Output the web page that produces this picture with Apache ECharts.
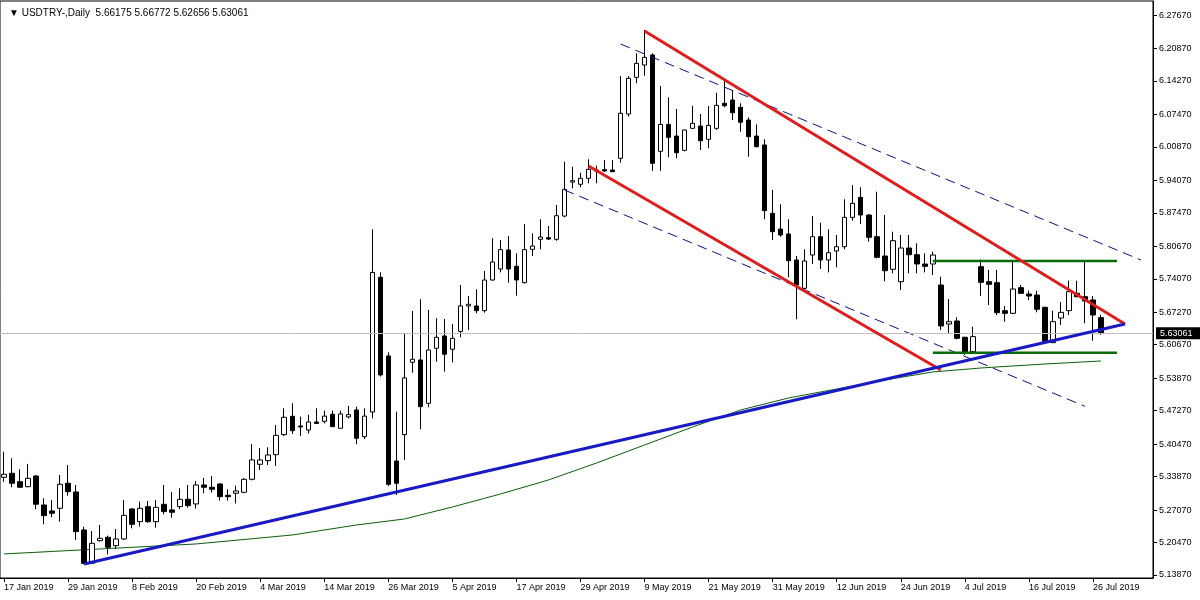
<!DOCTYPE html>
<html><head><meta charset="utf-8">
<script src="https://cdn.jsdelivr.net/npm/echarts@6/dist/echarts.min.js"></script>
<style>html,body{margin:0;padding:0;background:#fff}#c{width:1200px;height:600px}</style>
</head><body><div id="c"></div>
<script>
// Daily OHLC, bar 0 = 17 Jan 2019 ... bar 137 = 29 Jul 2019
const opens = [5.3373,5.3454,5.3283,5.3182,5.3399,5.2810,5.2689,5.2743,5.3251,5.3075,
5.2302,5.1625,5.2085,5.2153,5.1983,5.2119,5.2729,5.2471,5.2776,5.2471,
5.2824,5.2709,5.2776,5.2926,5.2831,5.3216,5.3170,5.3237,5.3007,5.3048,
5.3068,5.3332,5.3637,5.3711,5.3832,5.4239,5.4612,5.4415,5.4334,5.4497,
5.4510,5.4653,5.4369,5.4599,5.4741,5.4198,5.4700,5.7437,5.5838,5.3704,
5.4239,5.5710,5.5757,5.4876,5.5995,5.6244,5.5975,5.6339,5.6854,5.6854,
5.6759,5.7382,5.7605,5.7992,5.7660,5.7328,5.8006,5.8209,5.8242,5.8209,
5.8682,5.9373,5.9327,5.9449,5.9617,5.9624,5.9617,5.9855,6.0755,6.1501,
6.1751,6.1955,5.9997,6.0544,6.0308,6.0017,6.0464,6.0511,6.0241,6.0464,
6.0973,6.1040,6.0891,6.0633,6.0308,6.0126,5.8737,5.8418,5.8317,5.7789,
5.7213,5.7890,5.8262,5.7789,5.7972,5.8059,5.8655,5.9062,5.8703,5.8262,
5.7870,5.7599,5.7348,5.8032,5.7896,5.7707,5.7707,5.7280,5.6488,5.6549,
5.6218,5.5925,5.7653,5.7348,5.7328,5.6759,5.6705,5.7226,5.7097,5.7077,
5.6827,5.6109,5.6610,5.6759,5.7111,5.7043,5.6976,5.66175];
const highs = [5.3893,5.3759,5.3535,5.3644,5.3420,5.2946,5.2912,5.3420,5.3623,5.3216,
5.2370,5.2281,5.2403,5.2187,5.2322,5.2912,5.2743,5.2878,5.2892,5.2912,
5.3216,5.3075,5.3149,5.3216,5.3297,5.3358,5.3399,5.3251,5.3129,5.3202,
5.3358,5.4050,5.3969,5.3983,5.4436,5.4775,5.4877,5.4605,5.4646,5.4775,
5.4727,5.4727,5.4727,5.4822,5.4809,5.4775,5.8412,5.7538,5.5913,5.4707,
5.6284,5.6752,5.6990,5.6773,5.6604,5.6590,5.6488,5.7280,5.7057,5.7193,
5.7565,5.8229,5.8195,5.8276,5.7924,5.8520,5.8330,5.8615,5.8479,5.8906,
5.9787,5.9684,5.9563,5.9835,5.9704,5.9821,5.9821,6.1527,6.1527,6.1988,
6.2462,6.1988,6.1324,6.1094,6.0857,6.0440,6.0924,6.0755,6.0918,6.1189,
6.1480,6.1243,6.0973,6.0688,6.0544,6.0241,5.9211,5.8920,5.8615,5.7870,
5.8006,5.8682,5.8547,5.8412,5.8297,5.9022,5.9312,5.9266,5.8720,5.9177,
5.8703,5.8364,5.8297,5.8297,5.8127,5.7924,5.7958,5.7450,5.6996,5.6624,
5.6230,5.6434,5.7802,5.7585,5.7585,5.6854,5.7775,5.7280,5.7165,5.7165,
5.6840,5.6759,5.6935,5.7368,5.7368,5.7775,5.7057,5.66772];
const lows = [5.3283,5.3170,5.3160,5.3170,5.2723,5.2418,5.2560,5.2471,5.2999,5.2099,
5.1606,5.1610,5.2065,5.1808,5.1915,5.2099,5.2336,5.2370,5.2450,5.2349,
5.2621,5.2552,5.2723,5.2756,5.2737,5.3048,5.3061,5.2898,5.2898,5.2841,
5.3048,5.3310,5.3521,5.3623,5.3603,5.4213,5.4253,5.4213,5.4260,5.4460,
5.4467,5.4395,5.4362,5.4571,5.4043,5.4151,5.4571,5.5418,5.3196,5.3013,
5.3725,5.5499,5.4348,5.4795,5.5722,5.5519,5.5710,5.6218,5.6366,5.6705,
5.6718,5.7368,5.7537,5.7328,5.7063,5.7310,5.7870,5.8006,5.8195,5.8180,
5.8655,5.9245,5.9266,5.9347,5.9347,5.9583,5.9583,5.9767,6.0702,6.1379,
6.1534,5.9600,5.9600,5.9875,5.9855,5.9997,6.0460,6.0024,6.0058,6.0430,
6.0891,6.0633,6.0396,5.9888,6.0078,5.8615,5.8195,5.8262,5.7437,5.6583,
5.7179,5.7707,5.7605,5.7537,5.7639,5.8006,5.8588,5.8520,5.8161,5.7823,
5.7355,5.7518,5.7179,5.7518,5.7518,5.7537,5.7484,5.6366,5.6285,5.6177,
5.5858,5.5910,5.7057,5.6874,5.6671,5.6535,5.6690,5.7097,5.6976,5.6725,
5.6109,5.6100,5.6468,5.6671,5.7030,5.6502,5.6149,5.62656];
const closes = [5.3434,5.3251,5.3170,5.3352,5.2825,5.2593,5.2642,5.3231,5.3081,5.2268,
5.1625,5.2031,5.2133,5.1950,5.2119,5.2600,5.2418,5.2743,5.2471,5.2763,
5.2675,5.2662,5.2926,5.2797,5.3216,5.3170,5.3129,5.2979,5.2979,5.3094,
5.3332,5.3725,5.3725,5.3826,5.4226,5.4592,5.4320,5.4395,5.4497,5.4467,
5.4616,5.4402,5.4660,5.4646,5.4165,5.4616,5.7536,5.5452,5.3231,5.3251,
5.5391,5.5771,5.4808,5.5960,5.6218,5.5873,5.6197,5.6854,5.6888,5.6759,
5.7382,5.7748,5.7999,5.7605,5.7382,5.7999,5.8073,5.8256,5.8214,5.8689,
5.9225,5.9400,5.9449,5.9631,5.9597,5.9597,5.9583,6.0770,6.1480,6.1785,
6.1907,5.9754,6.0544,6.0281,5.9969,6.0430,6.0565,6.0213,6.0524,6.0931,
6.0924,6.0782,6.0588,6.0295,6.0091,5.8791,5.8364,5.8297,5.7775,5.7280,
5.7768,5.8262,5.7789,5.7938,5.8059,5.8655,5.8940,5.8703,5.8249,5.7843,
5.7571,5.8181,5.8032,5.7896,5.7707,5.7660,5.7890,5.6448,5.6535,5.6197,
5.5905,5.6231,5.7335,5.7294,5.6718,5.6705,5.7199,5.7111,5.7057,5.6787,
5.6129,5.6535,5.6725,5.7145,5.7043,5.6955,5.6671,5.63061];

const xTickLabels = ['17 Jan 2019','29 Jan 2019','8 Feb 2019','20 Feb 2019','4 Mar 2019','14 Mar 2019',
'26 Mar 2019','5 Apr 2019','17 Apr 2019','29 Apr 2019','9 May 2019','21 May 2019','31 May 2019',
'12 Jun 2019','24 Jun 2019','4 Jul 2019','16 Jul 2019','26 Jul 2019'];
const yTickLabels = ['5.13870','5.20470','5.27070','5.33870','5.40470','5.47270','5.53870','5.60670',
'5.67270','5.74070','5.80670','5.87470','5.94070','6.00870','6.07470','6.14270','6.20870','6.27670'];

// moving average (read at sample bars)
const maPoints = [[0,5.1815],[12,5.1916],[24,5.2018],[36,5.2200],[44,5.2403],[50,5.2525],[56,5.2769],
[62,5.3033],[68,5.3318],[74,5.3663],[80,5.4029],[86,5.4395],[92,5.4741],[98,5.4985],[104,5.5167],
[110,5.5350],[116,5.5513],[122,5.5594],[130,5.5675],[137,5.5736]];
// drawn trend lines: [bar, price] endpoints
const redUpper = [[80,6.2442],[140,5.6488]];
const redLower = [[73,5.9699],[117,5.5553]];
const blueSupport = [[10,5.1611],[140,5.6488]];
const dashUpper = [[77,6.2178],[142,5.7788]];
const dashLower = [[70,5.9211],[135,5.4815]];
const greenTop = [[116,5.7770],[139,5.7770]];
const greenBottom = [[116,5.5904],[139,5.5904]];
const symbolName = 'USDTRY-,Daily';
const slotCount = 144;

const slots = [];
for (let i = 0; i < slotCount; i++) slots.push(String(i));
const candles = opens.map((o, i) => [o, closes[i], lows[i], highs[i]]);
const last = opens.length - 1;
const titleText = '\u25BC ' + symbolName + '  ' + [opens[last], highs[last], lows[last], closes[last]].map(v => v.toFixed(5)).join(' ');
const FONT = 'Liberation Sans';

function seg(name, data, color, width, type, z) {
  return { name, type: 'line', data, symbol: 'none', silent: true, z: z || 5,
    lineStyle: { color, width, type: type || 'solid', dashOffset: 0 }, animation: false };
}

const chart = echarts.init(document.getElementById('c'), null, { renderer: 'canvas' });
chart.setOption({
  animation: false,
  backgroundColor: '#ffffff',
  title: { text: titleText, left: 4, top: 3, textStyle: { fontFamily: FONT, fontSize: 10, fontWeight: 'normal', color: '#000' } },
  grid: { left: 0, right: 47, top: 1, bottom: 22, show: true, borderColor: '#000', borderWidth: 1, backgroundColor: 'transparent' },
  xAxis: {
    type: 'category', data: slots, boundaryGap: true,
    axisLine: { show: true, lineStyle: { color: '#000', width: 1 } },
    axisTick: { show: true, interval: 7, alignWithLabel: true, length: 4, lineStyle: { color: '#000' } },
    axisLabel: { interval: 7, align: 'left', margin: 5, fontFamily: FONT, fontSize: 9, color: '#000',
      formatter: (v, idx) => (idx % 8 === 0 && xTickLabels[idx / 8]) ? xTickLabels[idx / 8] : '' },
    splitLine: { show: false }
  },
  yAxis: {
    type: 'value', position: 'right', min: 5.1326, max: 6.3052,
    axisLine: { show: true, lineStyle: { color: '#000', width: 1 } },
    axisTick: { show: true, length: 4, customValues: yTickLabels.map(Number), lineStyle: { color: '#000' } },
    axisLabel: { customValues: yTickLabels.map(Number), margin: 6, fontFamily: FONT, fontSize: 9, color: '#000',
      formatter: v => v.toFixed(5) },
    splitLine: { show: false }
  },
  series: [
    seg('ma', maPoints, '#0b5e0b', 1, 'solid', 2),
    {
      name: 'price', type: 'candlestick', data: candles, barWidth: 5, z: 3,
      itemStyle: { color: '#ffffff', color0: '#000000', borderColor: '#000000', borderColor0: '#000000', borderWidth: 1 },
      markLine: {
        symbol: 'none', silent: true, animation: false,
        lineStyle: { color: '#c0c0c0', width: 1, type: 'solid' },
        label: { show: true, position: 'end', distance: 3, formatter: () => closes[last].toFixed(5),
          backgroundColor: '#000', color: '#fff', padding: [2, 8, 1, 4], fontFamily: FONT, fontSize: 9 },
        data: [{ yAxis: closes[last] }]
      }
    },
    seg('dashUpper', dashUpper, '#10107e', 1, [10, 6], 4),
    seg('dashLower', dashLower, '#10107e', 1, [10, 6], 4),
    seg('greenTop', greenTop, '#0a6a0a', 2.5, 'solid', 5),
    seg('greenBottom', greenBottom, '#0a6a0a', 2.5, 'solid', 5),
    seg('redUpper', redUpper, '#dc1e1e', 3, 'solid', 6),
    seg('redLower', redLower, '#dc1e1e', 3, 'solid', 6),
    seg('blueSupport', blueSupport, '#1a1ac4', 3, 'solid', 7)
  ]
});
</script></body></html>
